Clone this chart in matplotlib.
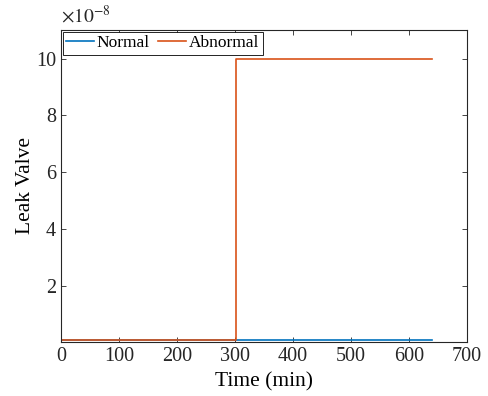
import matplotlib
matplotlib.use("Agg")
import matplotlib.pyplot as plt
from matplotlib.ticker import FuncFormatter

# data
normal_t = [0, 640]
normal_v = [1e-9, 1e-9]
abnormal_t = [0, 302, 302, 640]
abnormal_v = [1e-9, 1e-9, 1e-7, 1e-7]
x_ticks = [0, 100, 200, 300, 400, 500, 600, 700]
y_ticks = [2e-8, 4e-8, 6e-8, 8e-8, 10e-8]
exponent = -8

plt.rcParams['font.family'] = ['Liberation Serif', 'DejaVu Serif']
plt.rcParams['mathtext.fontset'] = 'stix'

fig = plt.figure(figsize=(4.88, 3.96), dpi=100)
ax = fig.add_axes([0.125, 0.137, 0.832, 0.787])

ax.plot(normal_t, normal_v, color='#0072BD', lw=1.2, label='Normal')
ax.plot(abnormal_t, abnormal_v, color='#D95319', lw=1.2, label='Abnormal')

ax.set_xlim(0, 700)
ax.set_ylim(0.03e-8, 11e-8)
ax.set_xticks(x_ticks)
ax.set_yticks(y_ticks)
ax.yaxis.set_major_formatter(FuncFormatter(lambda v, p: f'{v / 10**exponent:g}'))
ax.text(0.0, 1.012, r'$\times10^{%d}$' % exponent, transform=ax.transAxes,
        fontsize=14, ha='left', va='bottom', color='#262626')

ax.tick_params(direction='in', length=3.5, width=0.6, labelsize=14.5,
               top=True, right=True, colors='#262626')
for s in ax.spines.values():
    s.set_color('#262626')
    s.set_linewidth(0.8)

ax.set_xlabel('Time (min)', fontsize=15.5, labelpad=5)
ax.set_ylabel('Leak Valve', fontsize=15.5)
ax.yaxis.set_label_coords(-0.063, 0.5)

leg = ax.legend(loc='upper left', ncol=2, fontsize=12.5, borderaxespad=0.1,
                fancybox=False, framealpha=1, edgecolor='black',
                handlelength=1.6, columnspacing=0.5, handletextpad=0.15,
                borderpad=0.2)
leg.get_frame().set_linewidth(0.6)

fig.savefig('out.png', dpi=100)
